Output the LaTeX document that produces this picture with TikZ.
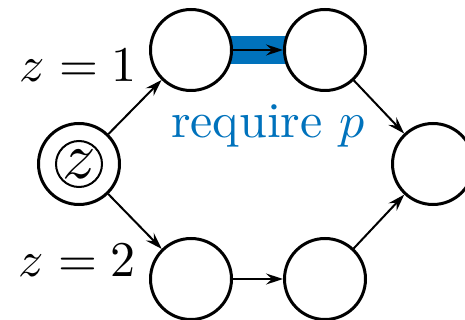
\documentclass[tikz,border=0pt]{standalone}
\usetikzlibrary{arrows.meta}
\definecolor{reqblue}{RGB}{0,114,188}
\tikzset{
  state/.style={circle, draw=black, fill=white, line width=3pt, minimum size=81pt, inner sep=0pt},
  innerstate/.style={circle, draw=black, line width=2pt, minimum size=46pt, inner sep=0pt},
  conn/.style={line width=2pt, -{Stealth[length=17pt,width=11pt,inset=6pt]}},
  lab/.style={inner sep=0pt, font=\normalsize, scale=5.0}
}
\begin{document}
\begin{tikzpicture}[x=1pt,y=-1pt]
\useasboundingbox (0,0) rectangle (465,320);
\clip (0,0) rectangle (465,320);
\coordinate (barA) at (191,50);
\coordinate (barB) at (325,50);
\draw[reqblue, line width=28pt] (barA) -- (barB);
\node[state] (zn) at (79,164) {};
\node[innerstate] (zi) at (79,164) {};
\node[inner sep=0pt, font=\normalsize, scale=6.6] (zt) at (79,164) {$z$};
\node[state] (a) at (191,50) {};
\node[state] (b) at (325,50) {};
\node[state] (c) at (433,164) {};
\node[state] (d) at (191,279) {};
\node[state] (e) at (325,279) {};
\draw[conn] (zn) -- (a);
\draw[conn] (zn) -- (d);
\draw[conn] (a) -- (b);
\draw[conn] (b) -- (c);
\draw[conn] (d) -- (e);
\draw[conn] (e) -- (c);
\node[lab, anchor=base east] (l1) at (138,82) {$z = 1$};
\node[lab, anchor=base east] (l2) at (137,276) {$z = 2$};
\node[lab, anchor=base west, text=reqblue] (req) at (170,138) {require $p$};
\end{tikzpicture}
\end{document}
